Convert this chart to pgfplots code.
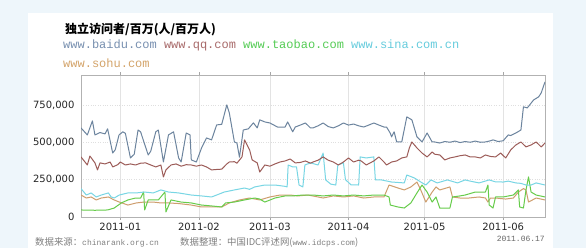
\documentclass[border=0pt]{standalone}
\usepackage{fontspec}
\usepackage{pgfplots}
\pgfplotsset{compat=1.18}
\setmainfont{DejaVu Sans}
\newfontfamily\cjk{Noto Sans CJK SC}
\newfontfamily\mono{Liberation Mono}
\newfontfamily\dejavu{DejaVu Sans}
\definecolor{bgc}{HTML}{EEF6FB}
\definecolor{cBaidu}{HTML}{6C849E}
\definecolor{cQQ}{HTML}{9C5C58}
\definecolor{cTaobao}{HTML}{66CC4A}
\definecolor{cSina}{HTML}{78D6E4}
\definecolor{cSohu}{HTML}{CE9E6E}
\definecolor{tBaidu}{HTML}{7890B0}
\definecolor{tQQ}{HTML}{A86A6A}
\definecolor{tTaobao}{HTML}{55CC55}
\definecolor{tSina}{HTML}{66CCDD}
\definecolor{tSohu}{HTML}{D4A46A}
\begin{document}
\begin{tikzpicture}[x=1pt,y=1pt]
\fill[bgc] (0,0) rectangle (586,248);
\fill[white] (28,0) rectangle (553,235);
\node[anchor=west,inner sep=0] at (65,218) {\cjk\bfseries\fontsize{12}{14}\selectfont 独立访问者/百万(人/百万人)};
\node[anchor=west,inner sep=0] at (63,203) {\mono\fontsize{12}{14}\selectfont {\color{tBaidu}www.baidu.com} {\color{tQQ}www.qq.com} {\color{tTaobao}www.taobao.com} {\color{tSina}www.sina.com.cn}};
\node[anchor=west,inner sep=0] at (63,185) {\mono\fontsize{12}{14}\selectfont \color{tSohu}www.sohu.com};
\node[anchor=west,inner sep=0,text=gray] at (35,6) {\cjk\fontsize{9.4}{11}\selectfont 数据来源：\mono\fontsize{8}{10}\selectfont chinarank.org.cn};
\node[anchor=west,inner sep=0,text=gray] at (180,6) {\cjk\fontsize{9.4}{11}\selectfont 数据整理：中国IDC评述网(\mono\fontsize{8}{10}\selectfont www.idcps.com\cjk\fontsize{9.4}{11}\selectfont )};
\node[anchor=east,inner sep=0,text=gray!80!black] at (545,9) {\mono\fontsize{8}{10}\selectfont 2011.06.17};
\begin{axis}[
  at={(81pt,31pt)}, anchor=south west,
  width=464pt, height=142pt, scale only axis,
  xmin=-15.5, xmax=167.5, ymin=0, ymax=950000,
  xtick={0,31,59,90,120,151},
  xticklabels={2011-01,2011-02,2011-03,2011-04,2011-05,2011-06},
  ytick={0,250000,500000,750000},
  scaled y ticks=false,
  /pgf/number format/.cd, fixed, 1000 sep={,}, assume math mode=true, /pgfplots/.cd,
  ticklabel style={font=\dejavu\fontsize{10}{12}\selectfont, text=black!85},
  xmajorgrids, ymajorgrids,
  x grid style={gray!22},
  y grid style={gray!25, dotted},
  axis line style={gray!60},
  tick align=outside,
  major tick length=3pt,
  xtick style={gray!70},
  ytick style={draw=none},
  every axis plot/.append style={line width=1pt, line join=round, mark=none},
]
% sohu
\addplot[cSohu] coordinates {
(-15.5,147000)(-13.4,127000)(-11.5,134000)(-9.5,114000)(-7.5,127000)(-4.7,134000)(-2.4,114000)(-0.4,100000)(3,80000)(6.3,94000)(9.4,100000)(13,100000)(16,94000)(19,94000)(23,90000)(28,80000)(32,67000)(36,67000)(40,67000)(43,94000)(47,114000)(51,127000)(55,114000)(59,134000)(63,147000)(67,147000)(70,141000)(74,147000)(78,134000)(80,127000)(84,141000)(88,134000)(92,141000)(96,127000)(100,134000)(104,134000)(106,214000)(109.5,194000)(112,181000)(114.6,201000)(117,234000)(118.5,181000)(120.5,100000)(123,167000)(124.5,201000)(126,181000)(130,201000)(131,134000)(134,127000)(137.5,127000)(141.5,134000)(144,127000)(145,100000)(146,127000)(148,127000)(152,120000)(155,127000)(157,167000)(159,190000)(160,181000)(161,100000)(164,127000)(167.5,114000)
};
% taobao
\addplot[cTaobao] coordinates {
(-15.5,47000)(-10,45000)(-5,47000)(-2.4,60000)(0.4,94000)(3,114000)(6,127000)(8,127000)(9.2,167000)(9.6,47000)(11,114000)(15,114000)(17.6,167000)(18,34000)(20,114000)(24,100000)(28,94000)(32,80000)(36,74000)(40,67000)(41.5,94000)(45,100000)(49,114000)(53,127000)(55,120000)(57,100000)(61,127000)(65,141000)(68,141000)(72,147000)(76,147000)(80,141000)(84,147000)(88,141000)(92,147000)(96,141000)(100,147000)(104,147000)(106,134000)(106.5,80000)(109.5,67000)(112,60000)(114.6,94000)(117,161000)(119,214000)(121,167000)(123,100000)(124.5,134000)(126,60000)(130,60000)(131,134000)(134,141000)(136,147000)(140,167000)(144,167000)(145,214000)(145.5,80000)(147,60000)(148,134000)(151,134000)(155,147000)(157,181000)(157.5,67000)(159,60000)(160,181000)(161,268000)(162,167000)(164,147000)(167.5,134000)
};
% sina
\addplot[cSina] coordinates {
(-15.5,190000)(-13.4,147000)(-11.5,161000)(-9.5,134000)(-7.5,147000)(-4.7,161000)(-3.6,134000)(-2.4,127000)(-0.4,147000)(3,161000)(6.3,161000)(9.4,167000)(13,161000)(16,181000)(19,167000)(23,161000)(28,147000)(32,141000)(36,134000)(38,147000)(41,167000)(45,181000)(49,194000)(51,185000)(53,201000)(57,214000)(61,214000)(65,205000)(65.8,201000)(66.2,348000)(68,335000)(69.5,335000)(70.5,214000)(72,201000)(72.8,348000)(75,362000)(78,348000)(80,428000)(81,248000)(83,220000)(85,214000)(85.8,348000)(88,362000)(88.8,250000)(91,215000)(94,214000)(94.6,402000)(97,395000)(100,402000)(100.6,248000)(103,248000)(107,234000)(112,228000)(113,281000)(116,261000)(118.5,234000)(120.5,214000)(122.5,248000)(125,228000)(129,248000)(133,228000)(136,248000)(138,240000)(141.5,228000)(145.5,248000)(148,235000)(151,234000)(153,240000)(156,228000)(158,225000)(160,214000)(162,214000)(164,228000)(167.5,214000)
};
% qq
\addplot[cQQ] coordinates {
(-15.5,402000)(-13,348000)(-12,408000)(-10,362000)(-9,315000)(-8,362000)(-6,355000)(-4,368000)(-3,335000)(-1,350000)(0,368000)(2,348000)(4,355000)(6,348000)(8,360000)(10,362000)(12,348000)(14,335000)(16,348000)(17,268000)(18,315000)(20,348000)(22,355000)(24,340000)(26,350000)(28,348000)(30,340000)(32,348000)(34,335000)(36,315000)(38,318000)(40,320000)(42,355000)(43,368000)(45,370000)(46,360000)(48,402000)(49,516000)(51,449000)(52,382000)(54,362000)(55,301000)(57,348000)(59,340000)(61,355000)(63,368000)(65,375000)(67,388000)(69,362000)(71,365000)(73,375000)(75,360000)(76,368000)(78,380000)(80,402000)(82,380000)(84,368000)(86,348000)(88,368000)(90,395000)(92,368000)(94,380000)(95,375000)(97,348000)(100,375000)(102,402000)(104,368000)(105,348000)(107,368000)(109,375000)(111,395000)(113,402000)(114,462000)(115,502000)(117,462000)(119,428000)(121,402000)(123,435000)(124,420000)(126,415000)(128,382000)(130,395000)(132,402000)(134,410000)(136,415000)(138,402000)(140,402000)(142,395000)(144,415000)(146,405000)(148,402000)(150,428000)(152,395000)(154,449000)(156,482000)(158,502000)(160,469000)(162,482000)(164,502000)(166,469000)(167.5,495000)
};
% baidu
\addplot[cBaidu] coordinates {
(-15.5,596000)(-13,549000)(-11,643000)(-10,549000)(-8,565000)(-6,556000)(-5,590000)(-3,428000)(-2,450000)(-0.5,549000)(1,570000)(2,560000)(4,395000)(5.5,420000)(7,582000)(8,570000)(11,415000)(12,440000)(14,570000)(15,582000)(17,368000)(19,549000)(21,570000)(23,395000)(24,368000)(26,562000)(27.5,549000)(28,382000)(30,368000)(32,460000)(34,529000)(36,516000)(38,616000)(40,620000)(42,750000)(43,696000)(45,502000)(46,495000)(47,400000)(48.5,582000)(50.5,590000)(52.5,630000)(54,596000)(55,650000)(57,636000)(59,629000)(62,602000)(65,602000)(66,636000)(68,570000)(69,602000)(71,615000)(73,629000)(75,596000)(76,596000)(78,610000)(80,629000)(82,605000)(84,596000)(86,610000)(88,629000)(90,615000)(92,622000)(94,610000)(96,602000)(98,615000)(100,629000)(102,615000)(104,602000)(105,602000)(106.5,560000)(107,536000)(108,570000)(109,502000)(111,502000)(113,670000)(115,650000)(117,536000)(119,502000)(121,562000)(123,502000)(124,502000)(126,495000)(128,505000)(130,500000)(132,508000)(134,498000)(136,505000)(138,500000)(140,508000)(142,500000)(144,502000)(146,510000)(147,516000)(149,505000)(151,510000)(153,549000)(154,545000)(156,562000)(158,582000)(159,737000)(160.5,730000)(161,740000)(163,783000)(165,804000)(166,830000)(167.5,904000)
};
\end{axis}
\end{tikzpicture}
\end{document}
